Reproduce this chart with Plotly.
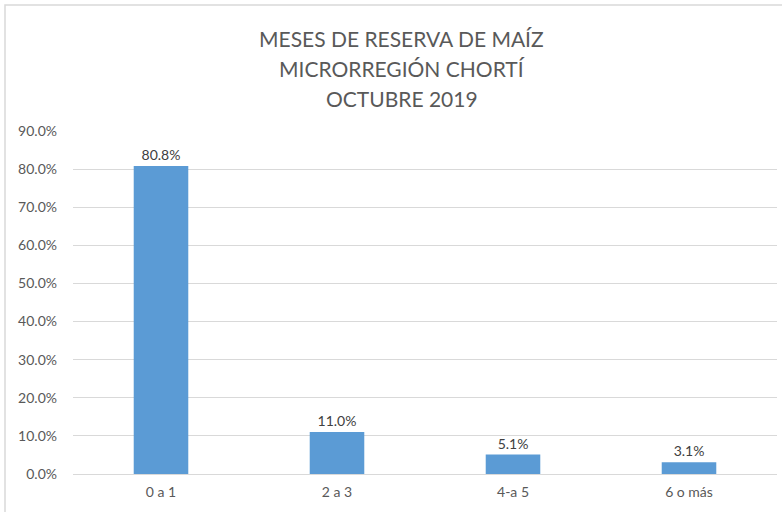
import plotly.graph_objects as go

categorias = ["0 a 1", "2 a 3", "4-a 5", "6 o más"]
porcentajes = [80.8, 11.0, 5.1, 3.1]
ticks_y = [0, 10, 20, 30, 40, 50, 60, 70, 80, 90]
ticks_y_texto = [f"{v:.1f}%" for v in ticks_y]
titulo = ["MESES DE RESERVA DE MAÍZ", "MICRORREGIÓN CHORTÍ", "OCTUBRE 2019"]

fuente = "Lato, Calibri, sans-serif"
gris = "#595959"

fig = go.Figure()

fig.add_trace(go.Bar(
    x=categorias,
    y=porcentajes,
    marker_color="#5B9BD5",
    marker_line_width=0,
    text=[f"{v:.1f}%" for v in porcentajes],
    textposition="outside",
    textfont=dict(family=fuente, size=14, color="#404040"),
    cliponaxis=False,
    hovertemplate="<b>%{x}</b><br>%{y:.1f}%<extra></extra>"
))

# Título en tres líneas, con el interlineado del original
anotaciones = []
for i, linea in enumerate(titulo):
    anotaciones.append(dict(
        text=linea, xref="paper", yref="paper",
        x=0.467, y=1.271 - i * 0.0875,
        xanchor="center", yanchor="middle",
        showarrow=False,
        font=dict(family=fuente, size=21, color=gris)
    ))

fig.update_layout(
    width=782,
    height=512,
    margin=dict(l=73, r=5, t=131, b=38),
    paper_bgcolor="white",
    plot_bgcolor="white",
    bargap=0.69,
    showlegend=False,
    font=dict(family=fuente, color=gris),
    annotations=anotaciones,
    xaxis=dict(
        showgrid=False,
        showline=True,
        linecolor="#d9d9d9",
        ticks="",
        ticklabelstandoff=5,
        tickfont=dict(family=fuente, size=14, color=gris),
    ),
    yaxis=dict(
        range=[0, 90],
        tickvals=ticks_y,
        ticktext=ticks_y_texto,
        showgrid=True,
        gridcolor="#d9d9d9",
        zeroline=False,
        showline=False,
        ticks="",
        ticklabelstandoff=15,
        tickfont=dict(family=fuente, size=14, color=gris),
    ),
    shapes=[dict(
        type="rect", xref="paper", yref="paper",
        x0=-0.0966, x1=1.1, y0=-0.2, y1=1.367,
        line=dict(color="#d9d9d9", width=1.5),
        fillcolor="rgba(0,0,0,0)",
        layer="below"
    )]
)

fig.write_html(
    "out.html",
    config={"displayModeBar": False},
    post_script="document.body.style.margin='0';"
)
